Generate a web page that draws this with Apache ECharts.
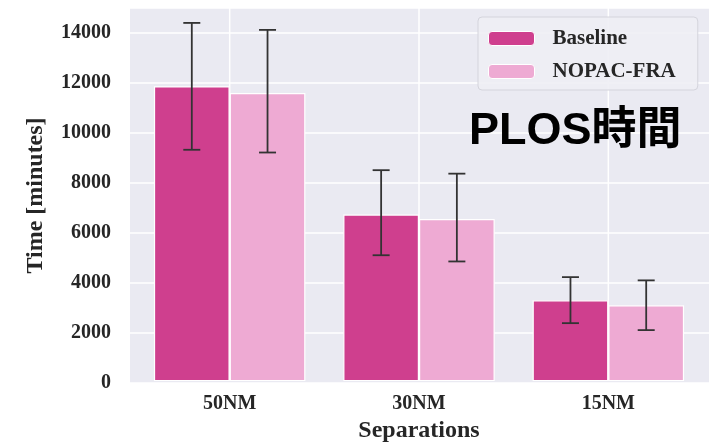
<!DOCTYPE html>
<html>
<head>
<meta charset="utf-8">
<script src="https://cdn.jsdelivr.net/npm/echarts@6/dist/echarts.min.js"></script>
<style>
html,body{margin:0;padding:0;background:#fff;}
#chart{width:716px;height:448px;}
</style>
</head>
<body>
<div id="chart"></div>
<script>
const categories = ['50NM', '30NM', '15NM'];
const seriesNames = ['Baseline', 'NOPAC-FRA'];
const baselineValues = [11850, 6700, 3250];
const nopacValues = [11580, 6520, 3050];
const baselineErrLow = [9300, 5060, 2330];
const baselineErrHigh = [14400, 8480, 4180];
const nopacErrLow = [9190, 4810, 2050];
const nopacErrHigh = [14120, 8340, 4050];
const yTicks = [0, 2000, 4000, 6000, 8000, 10000, 12000, 14000];
const yMax = 15000;
const titleText = 'PLOS時間';

const colors = ['#cf3f8e', '#eeaad3'];
const serif = "'Liberation Serif', 'DejaVu Serif', serif";
const BAR_FRAC = 0.4;

const chart = echarts.init(document.getElementById('chart'));

function errorItem(seriesIdx) {
  return function (params, api) {
    const ci = api.value(0);
    const lo = api.coord([ci, api.value(1)]);
    const hi = api.coord([ci, api.value(2)]);
    const band = api.size([1, 0])[0];
    const x = lo[0] + (seriesIdx - 0.5) * band * BAR_FRAC;
    const cap = 8.5;
    const style = { stroke: '#333333', lineWidth: 1.8 };
    return {
      type: 'group',
      children: [
        { type: 'line', shape: { x1: x, y1: lo[1], x2: x, y2: hi[1] }, style },
        { type: 'line', shape: { x1: x - cap, y1: lo[1], x2: x + cap, y2: lo[1] }, style },
        { type: 'line', shape: { x1: x - cap, y1: hi[1], x2: x + cap, y2: hi[1] }, style }
      ]
    };
  };
}

const option = {
  animation: false,
  backgroundColor: '#ffffff',
  title: {
    text: titleText,
    left: 469,
    top: 109,
    padding: 0,
    textStyle: {
      fontFamily: "'Liberation Sans', 'Noto Sans CJK JP', sans-serif",
      fontWeight: 'bold',
      fontSize: 45,
      color: '#000000'
    }
  },
  legend: {
    data: seriesNames,
    orient: 'vertical',
    left: 478,
    top: 17,
    padding: [11, 22, 8, 10],
    itemWidth: 46,
    itemHeight: 14,
    itemGap: 12,
    backgroundColor: 'rgba(238,238,244,0.9)',
    borderColor: '#d4d4dc',
    borderWidth: 1,
    borderRadius: 4,
    itemStyle: { borderColor: '#ffffff', borderWidth: 1 },
    textStyle: {
      fontFamily: serif,
      fontWeight: 'bold',
      fontSize: 21,
      lineHeight: 21,
      color: '#262626',
      padding: [0, 0, 0, 13]
    }
  },
  grid: [
    { left: 130, right: 7, top: 8, bottom: 65, show: true, backgroundColor: '#eaeaf2', borderWidth: 0 },
    { left: 135, right: 13, top: 8, bottom: 65 }
  ],
  xAxis: [
    { gridIndex: 0, type: 'category', data: categories, show: false },
    {
      gridIndex: 1,
      type: 'category',
      data: categories,
      axisLine: { show: false },
      axisTick: { show: false },
      splitLine: { show: false },
      axisLabel: {
        margin: 13,
        fontFamily: serif,
        fontWeight: 'bold',
        fontSize: 20,
        color: '#262626'
      },
      name: 'Separations',
      nameLocation: 'middle',
      nameGap: 36,
      nameTextStyle: {
        fontFamily: serif,
        fontWeight: 'bold',
        fontSize: 24,
        color: '#262626'
      }
    }
  ],
  yAxis: [
    {
      gridIndex: 0,
      type: 'value',
      min: 0,
      max: yMax,
      interval: yTicks[1] - yTicks[0],
      axisLine: { show: false },
      axisTick: { show: false },
      splitLine: { show: true, lineStyle: { color: '#ffffff', width: 1.5 } },
      axisLabel: {
        showMaxLabel: false,
        margin: 19,
        formatter: function (v) { return String(v); },
        fontFamily: serif,
        fontWeight: 'bold',
        fontSize: 20,
        color: '#262626'
      },
      name: 'Time [minutes]',
      nameLocation: 'middle',
      nameRotate: 90,
      nameGap: 82,
      nameTextStyle: {
        fontFamily: serif,
        fontWeight: 'bold',
        fontSize: 24,
        color: '#262626'
      }
    },
    {
      gridIndex: 1,
      type: 'value',
      min: 0,
      max: yMax,
      show: false,
      splitLine: { show: false }
    }
  ],
  series: [
    {
      type: 'custom',
      silent: true,
      xAxisIndex: 1,
      yAxisIndex: 1,
      z: 1,
      data: categories.map((c, i) => [i]),
      renderItem: function (params, api) {
        const cs = params.coordSys;
        const p = api.coord([api.value(0), 0]);
        return {
          type: 'line',
          shape: { x1: p[0], y1: cs.y, x2: p[0], y2: cs.y + cs.height },
          style: { stroke: '#ffffff', lineWidth: 1.5 }
        };
      }
    },
    {
      name: seriesNames[0],
      type: 'bar',
      xAxisIndex: 1,
      yAxisIndex: 1,
      z: 2,
      barWidth: (BAR_FRAC * 100) + '%',
      barGap: '0%',
      data: baselineValues,
      itemStyle: { color: colors[0], borderColor: '#ffffff', borderWidth: 1.2 }
    },
    {
      name: seriesNames[1],
      type: 'bar',
      xAxisIndex: 1,
      yAxisIndex: 1,
      z: 2,
      barWidth: (BAR_FRAC * 100) + '%',
      barGap: '0%',
      data: nopacValues,
      itemStyle: { color: colors[1], borderColor: '#ffffff', borderWidth: 1.2 }
    },
    {
      type: 'custom',
      silent: true,
      xAxisIndex: 1,
      yAxisIndex: 1,
      z: 3,
      data: categories.map((c, i) => [i, baselineErrLow[i], baselineErrHigh[i]]),
      encode: { x: 0, y: [1, 2] },
      renderItem: errorItem(0)
    },
    {
      type: 'custom',
      silent: true,
      xAxisIndex: 1,
      yAxisIndex: 1,
      z: 3,
      data: categories.map((c, i) => [i, nopacErrLow[i], nopacErrHigh[i]]),
      encode: { x: 0, y: [1, 2] },
      renderItem: errorItem(1)
    }
  ]
};

chart.setOption(option);
</script>
</body>
</html>
